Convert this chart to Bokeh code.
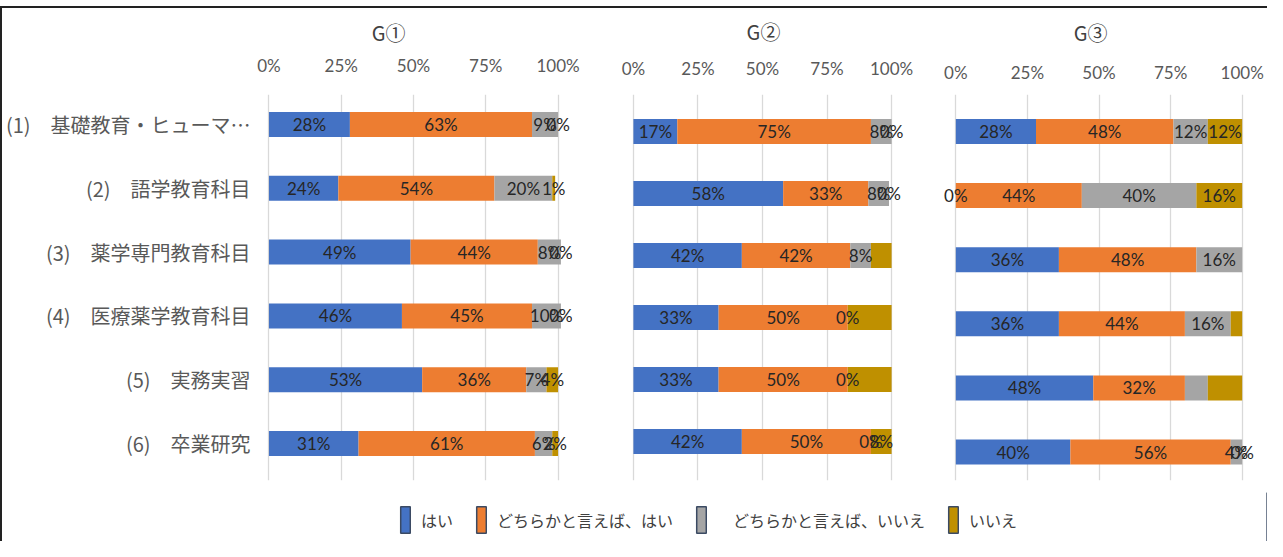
from bokeh.plotting import figure
from bokeh.models import (Range1d, FixedTicker, ColumnDataSource, LabelSet, LinearAxis,
                          Legend, LegendItem, Spacer)
from bokeh.layouts import row, column
from bokeh.core.properties import value
from bokeh.embed import file_html
from bokeh.resources import INLINE

# ---------------- data ----------------
categories = ["(1)　基礎教育・ヒューマ…", "(2)　語学教育科目", "(3)　薬学専門教育科目",
              "(4)　医療薬学教育科目", "(5)　実務実習", "(6)　卒業研究"]
series = ["はい", "どちらかと言えば、はい", "　どちらかと言えば、いいえ", "いいえ"]
colors = ["#4472C4", "#ED7D31", "#A5A5A5", "#BF9000"]
ticks = [0, 25, 50, 75, 100]
tick_labels = ["0%", "25%", "50%", "75%", "100%"]
panel_titles = ["G①", "G②", "G③"]

g1_yes = [28, 24, 49, 46, 53, 31]
g1_rather_yes = [63, 54, 44, 45, 36, 61]
g1_rather_no = [9, 20, 8, 10, 7, 6]
g1_no = [0, 1, 0, 0, 4, 2]

g2_yes = [17, 58, 42, 33, 33, 42]
g2_rather_yes = [75, 33, 42, 50, 50, 50]
g2_rather_no = [8, 8, 8, 0, 0, 0]
g2_no = [0, 0, 8, 17, 17, 8]

g3_yes = [28, 0, 36, 36, 48, 40]
g3_rather_yes = [48, 44, 48, 44, 32, 56]
g3_rather_no = [12, 40, 16, 16, 8, 4]
g3_no = [12, 16, 0, 4, 12, 0]

# which data labels are displayed (1 = shown), per series
g1_label_shown = [[1, 1, 1, 1, 1, 1], [1, 1, 1, 1, 1, 1], [1, 1, 1, 1, 1, 1], [1, 1, 1, 1, 1, 1]]
g2_label_shown = [[1, 1, 1, 1, 1, 1], [1, 1, 1, 1, 1, 1], [1, 1, 1, 1, 1, 1], [1, 1, 0, 0, 0, 1]]
g3_label_shown = [[1, 1, 1, 1, 1, 1], [1, 1, 1, 1, 1, 1], [1, 1, 1, 1, 0, 1], [1, 1, 0, 0, 0, 1]]

panels_data = [
    [g1_yes, g1_rather_yes, g1_rather_no, g1_no],
    [g2_yes, g2_rather_yes, g2_rather_no, g2_no],
    [g3_yes, g3_rather_yes, g3_rather_no, g3_no],
]
panels_shown = [g1_label_shown, g2_label_shown, g3_label_shown]
row_index = list(range(1, len(categories) + 1))   # 1 = top row

# ---------------- layout settings (page pixel coordinates) ----------------
ROW_TOP, ROW_BOTTOM = 16, 500          # vertical extent of the three panels
FRAME_TOP, FRAME_BOTTOM = 102, 488      # common plot frame
PAD = 5                                 # x-range padding so edge labels are not clipped
panel_geom = [
    dict(fig_l=10, fig_r=600, x0=276, x100=566, row1=132, step=63.8, xst=19, tst=5, tcx=396, showy=True),
    dict(fig_l=600, fig_r=930, x0=641, x100=899, row1=139, step=62.0, xst=16, tst=9, tcx=771, showy=False),
    dict(fig_l=930, fig_r=1275, x0=963, x100=1250, row1=139, step=64.1, xst=12, tst=12, tcx=1098, showy=False),
]
BAR_PX = 25

LABEL_FONT = "Lato"
JP_FONT = "Noto Sans CJK JP"
keys = ["s0", "s1", "s2", "s3"]


def style_axis_lines(ax):
    ax.axis_line_color = None
    ax.major_tick_line_color = None
    ax.minor_tick_line_color = None
    ax.major_tick_out = 0
    ax.major_tick_in = 0
    ax.minor_tick_out = 0
    ax.minor_tick_in = 0


def make_panel(data, shown, title, g):
    ppu = (g["x100"] - g["x0"]) / 100.0
    fl = g["x0"] - PAD * ppu
    fr = g["x100"] + PAD * ppu
    bl = int(round(fl - g["fig_l"]))
    br = int(round(g["fig_r"] - fr))
    y_top = 1 + (FRAME_TOP - g["row1"]) / g["step"]
    y_bot = 1 + (FRAME_BOTTOM - g["row1"]) / g["step"]
    p = figure(width=g["fig_r"] - g["fig_l"], height=ROW_BOTTOM - ROW_TOP,
               x_range=Range1d(-PAD, 100 + PAD), y_range=Range1d(y_bot, y_top),
               x_axis_location="above", output_backend="svg", toolbar_location=None,
               min_border_left=bl, min_border_right=br,
               min_border_top=FRAME_TOP - ROW_TOP, min_border_bottom=ROW_BOTTOM - FRAME_BOTTOM)
    src = ColumnDataSource(dict(r=row_index, **{k: v for k, v in zip(keys, data)}))
    p.hbar_stack(keys, y="r", height=BAR_PX / g["step"], fill_color=colors,
                 line_color=None, source=src)

    # data labels (centred in each segment)
    xs, ys, txt = [], [], []
    left = [0] * len(categories)
    for vals, sh in zip(data, shown):
        for i, v in enumerate(vals):
            if sh[i]:
                xs.append(left[i] + v / 2)
                ys.append(row_index[i])
                txt.append(f"{v}%")
            left[i] += v
    lsrc = ColumnDataSource(dict(x=xs, y=ys, t=txt))
    p.add_layout(LabelSet(x="x", y="y", text="t", source=lsrc, text_align="center",
                          text_baseline="middle", text_font=value(LABEL_FONT),
                          text_font_size="17px", text_color="#262626"))

    ax = p.xaxis[0]
    ax.ticker = FixedTicker(ticks=ticks)
    ax.major_label_overrides = {t: l for t, l in zip(ticks, tick_labels)}
    style_axis_lines(ax)
    ax.major_label_text_font = LABEL_FONT
    ax.major_label_text_font_size = "17px"
    ax.major_label_text_color = "#595959"
    ax.major_label_standoff = g["xst"]

    # panel title: an extra top axis in page-pixel units carrying one labelled tick
    p.extra_x_ranges = {"title": Range1d(fl, fr)}
    tax = LinearAxis(x_range_name="title", ticker=FixedTicker(ticks=[g["tcx"]]),
                     major_label_overrides={g["tcx"]: title})
    style_axis_lines(tax)
    tax.major_label_text_font = JP_FONT
    tax.major_label_text_font_size = "20px"
    tax.major_label_text_color = "#404040"
    tax.major_label_standoff = g["tst"]
    p.add_layout(tax, "above")

    p.xgrid.grid_line_color = "#D9D9D9"
    p.xgrid.grid_line_width = 1.3
    p.ygrid.visible = False
    p.outline_line_color = None

    ya = p.yaxis[0]
    if g["showy"]:
        ya.ticker = FixedTicker(ticks=row_index)
        ya.major_label_overrides = {i: c for i, c in zip(row_index, categories)}
        style_axis_lines(ya)
        ya.major_label_text_font = JP_FONT
        ya.major_label_text_font_size = "20px"
        ya.major_label_text_color = "#595959"
        ya.major_label_standoff = 4
    else:
        ya.visible = False
    return p


figs = [make_panel(d, s, t, g) for d, s, t, g in zip(panels_data, panels_shown, panel_titles, panel_geom)]

# ---------------- legend strip ----------------
lg = figure(width=1265, height=49, x_range=Range1d(0, 1), y_range=Range1d(0, 1),
            output_backend="svg", toolbar_location=None, min_border=0)
lg.axis.visible = False
lg.grid.visible = False
lg.outline_line_color = None
items = []
for name, c in zip(series, colors):
    # swatch renderers sit outside the visible range; only their legend entries show
    r = lg.vbar(x=[5], top=[1], width=1, fill_color=c, line_color="#3B4A63", line_width=1.5)
    items.append(LegendItem(label=name, renderers=[r]))
legend = Legend(items=items, orientation="horizontal", location=(397, 5),
                glyph_width=12, glyph_height=33, label_standoff=10, spacing=22,
                padding=0, margin=0, border_line_color=None, background_fill_alpha=0,
                label_text_font=JP_FONT, label_text_font_size="16px",
                label_text_color="#404040")
lg.add_layout(legend, "center")

inner = column(row(*figs), lg,
               styles={"border-top": "2px solid #222222", "border-left": "2px solid #222222"})
layout = column(Spacer(width=1267, height=6), inner)

open("out.html", "w").write(file_html(layout, INLINE))
